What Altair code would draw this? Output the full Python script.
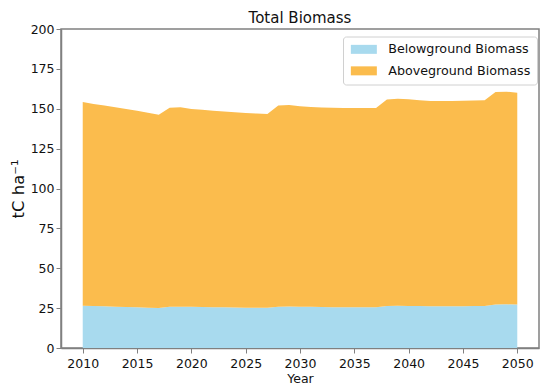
import altair as alt
import pandas as pd

years = list(range(2010, 2051))
belowground = [26.5, 26.3, 26.1, 25.9, 25.7, 25.5, 25.3, 25.1, 25.8, 25.9,
               25.8, 25.7, 25.6, 25.5, 25.4, 25.3, 25.2, 25.2, 25.9, 26.0,
               25.9, 25.8, 25.7, 25.6, 25.6, 25.6, 25.6, 25.6, 26.4, 26.5,
               26.4, 26.3, 26.2, 26.2, 26.2, 26.2, 26.3, 26.3, 27.3, 27.4,
               27.2]
aboveground = [127.7, 126.7, 125.9, 125.1, 124.1, 123.3, 122.2, 121.2, 124.9, 125.1,
               124.0, 123.6, 123.2, 122.8, 122.4, 122.1, 121.8, 121.5, 126.1, 126.3,
               125.6, 125.3, 125.1, 125.0, 124.8, 124.8, 124.8, 124.9, 129.4, 129.8,
               129.5, 129.0, 128.6, 128.6, 128.6, 128.8, 128.9, 129.1, 133.2, 133.3,
               132.8]
series_names = ["Belowground Biomass", "Aboveground Biomass"]
series_colors = ["#A8DAEE", "#FBBC4D"]
x_ticks = list(range(2010, 2051, 5))
y_ticks = list(range(0, 201, 25))

rows = []
for i, yr in enumerate(years):
    rows.append({"Year": yr, "Component": series_names[0], "value": belowground[i], "ord": 0})
    rows.append({"Year": yr, "Component": series_names[1], "value": aboveground[i], "ord": 1})
df = pd.DataFrame(rows)

font = "DejaVu Sans"

chart = alt.Chart(df).mark_area(opacity=1).encode(
    x=alt.X("Year:Q",
            scale=alt.Scale(domain=[2008, 2052], nice=False, zero=False),
            axis=alt.Axis(values=x_ticks, format="d", title="Year", grid=False,
                          labelFontSize=12.5, titleFontSize=12.5, titleFontWeight="normal",
                          tickSize=5, labelPadding=4, titlePadding=3)),
    y=alt.Y("value:Q", stack="zero",
            scale=alt.Scale(domain=[0, 200], nice=False),
            axis=alt.Axis(values=y_ticks, title="tC ha⁻¹", grid=False,
                          labelFontSize=12.5, titleFontSize=16.5, titleFontWeight="normal",
                          tickSize=5, titlePadding=4)),
    color=alt.Color("Component:N",
                    scale=alt.Scale(domain=series_names, range=series_colors),
                    sort=series_names,
                    legend=alt.Legend(title=None, orient="none", legendX=282, legendY=7.5,
                                      symbolType="M-1,-0.9L4.2,-0.9L4.2,0.9L-1,0.9Z",
                                      symbolSize=100, symbolStrokeWidth=0,
                                      labelFontSize=12.7, labelOffset=26,
                                      rowPadding=7.5, padding=6.5,
                                      fillColor="white", strokeColor="#d0d0d0",
                                      cornerRadius=3)),
    order=alt.Order("ord:Q"),
).properties(
    width=478,
    height=319,
    title=alt.TitleParams("Total Biomass", fontSize=15, fontWeight="normal",
                          font=font, offset=-3),
    autosize=alt.AutoSizeParams(type="none"),
    padding={"left": 53, "top": 21, "right": 3, "bottom": 50},
).configure_view(
    stroke="#808080", strokeWidth=1.5
).configure_axis(
    domainColor="#808080", domainWidth=1.5, tickColor="#808080",
    labelFont=font, titleFont=font, labelColor="#111", titleColor="#111"
).configure_legend(
    labelFont=font, labelColor="#111"
).configure_title(color="#111")

chart.save("out.html", embed_options={"renderer": "svg", "actions": False})
